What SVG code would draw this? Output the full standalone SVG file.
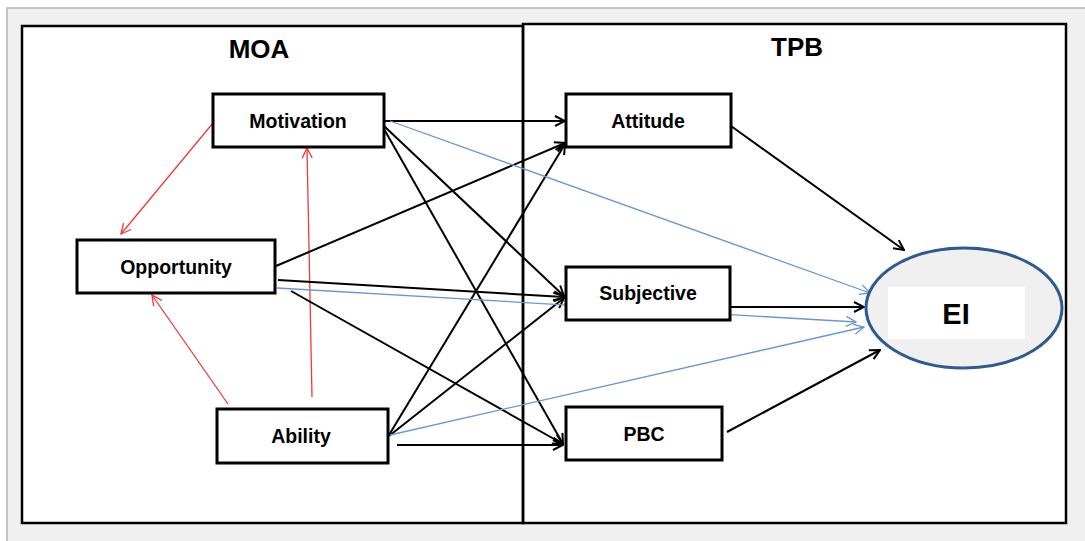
<svg xmlns="http://www.w3.org/2000/svg" width="1085" height="541" viewBox="0 0 1085 541">
  <style>
    .frame { fill: none; stroke: #000; stroke-width: 2.5; }
    .node rect { fill: #fff; stroke: #000; stroke-width: 3; }
    .label { font-family: "Liberation Sans", Arial, sans-serif; font-weight: bold; fill: #000; text-anchor: middle; }
    .node text { font-size: 19.5px; }
    .title { font-size: 26px; }
    .blk { stroke: #000; stroke-width: 2; fill: none; marker-end: url(#arrBlack); }
    .blu { stroke: #6a97cf; stroke-width: 1.3; fill: none; marker-end: url(#arrBlue); }
    .red { stroke: #f03a3a; stroke-width: 1.3; fill: none; marker-end: url(#arrRed); }
  </style>
  <defs>
    <marker id="arrBlack" viewBox="0 0 12 12" refX="11" refY="6" markerWidth="12" markerHeight="12" markerUnits="userSpaceOnUse" orient="auto">
      <path d="M1,1 L11,6 L1,11" fill="none" stroke="#000" stroke-width="2"/>
    </marker>
    <marker id="arrBlue" viewBox="0 0 12 12" refX="11" refY="6" markerWidth="12" markerHeight="12" markerUnits="userSpaceOnUse" orient="auto">
      <path d="M1,1 L11,6 L1,11" fill="none" stroke="#6a97cf" stroke-width="1.3"/>
    </marker>
    <marker id="arrRed" viewBox="0 0 12 12" refX="11" refY="6" markerWidth="12" markerHeight="12" markerUnits="userSpaceOnUse" orient="auto">
      <path d="M1,1 L11,6 L1,11" fill="none" stroke="#f03a3a" stroke-width="1.3"/>
    </marker>
  </defs>

  <!-- page background and panel -->
  <rect x="0" y="0" width="1085" height="541" fill="#fff"/>
  <rect x="7" y="8" width="1078" height="533" fill="#f0f0f0"/>
  <path d="M7,541 V8 H1085" fill="none" stroke="#b4b4b4" stroke-width="1.5"/>
  <rect x="22" y="25" width="1044" height="498" fill="#fff"/>

  <!-- model frames -->
  <g id="frame-moa">
    <rect class="frame" x="22" y="26" width="501" height="497"/>
    <text class="label title" x="259" y="58">MOA</text>
  </g>
  <g id="frame-tpb">
    <rect class="frame" x="523" y="24" width="543" height="499"/>
    <text class="label title" x="797" y="56">TPB</text>
  </g>

  <!-- connectors -->
  <g id="connectors">
    <!-- MOA internal links -->
    <line class="red" x1="213" y1="123" x2="121" y2="234"/>
    <line class="red" x1="228" y1="404" x2="152" y2="295"/>
    <line class="red" x1="312" y1="397" x2="307" y2="148"/>

    <!-- MOA to TPB -->
    <line class="blk" x1="385" y1="121" x2="565" y2="121"/>
    <line class="blk" x1="384" y1="126" x2="564" y2="296"/>
    <line class="blk" x1="384" y1="129" x2="563" y2="444"/>
    <line class="blk" x1="276" y1="266" x2="565" y2="143"/>
    <line class="blk" x1="278" y1="280" x2="564" y2="297"/>
    <line class="blk" x1="291" y1="291" x2="563" y2="444"/>
    <line class="blk" x1="389" y1="435" x2="565" y2="144"/>
    <line class="blk" x1="389" y1="436" x2="564" y2="298"/>
    <line class="blk" x1="397" y1="445" x2="563" y2="445"/>

    <!-- direct links to EI -->
    <line class="blu" x1="390" y1="121" x2="870" y2="293"/>
    <line class="blu" x1="277" y1="288" x2="856" y2="322"/>
    <line class="blu" x1="390" y1="435" x2="864" y2="327"/>

    <!-- TPB to EI -->
    <line class="blk" x1="731" y1="126" x2="904" y2="250"/>
    <line class="blk" x1="731" y1="307" x2="864" y2="307"/>
    <line class="blk" x1="727" y1="432" x2="880" y2="350"/>
  </g>

  <!-- nodes -->
  <g id="motivation" class="node">
    <rect x="213" y="94" width="171" height="53"/>
    <text class="label" x="298" y="128">Motivation</text>
  </g>
  <g id="opportunity" class="node">
    <rect x="77" y="240" width="198" height="53"/>
    <text class="label" x="176" y="274">Opportunity</text>
  </g>
  <g id="ability" class="node">
    <rect x="217" y="409" width="171" height="54"/>
    <text class="label" x="301" y="443">Ability</text>
  </g>
  <g id="attitude" class="node">
    <rect x="566" y="94" width="165" height="53"/>
    <text class="label" x="648" y="128">Attitude</text>
  </g>
  <g id="subjective" class="node">
    <rect x="566" y="267" width="164" height="53"/>
    <text class="label" x="648" y="300">Subjective</text>
  </g>
  <g id="pbc" class="node">
    <rect x="566" y="407" width="156" height="53"/>
    <text class="label" x="644" y="441">PBC</text>
  </g>
  <g id="ei">
    <ellipse cx="964" cy="308" rx="98" ry="60" fill="#f0f0f0" stroke="#2e5a8f" stroke-width="3"/>
    <rect x="888" y="287" width="137" height="52" fill="#fff"/>
    <text class="label" x="956" y="324" font-size="29">EI</text>
  </g>
</svg>
